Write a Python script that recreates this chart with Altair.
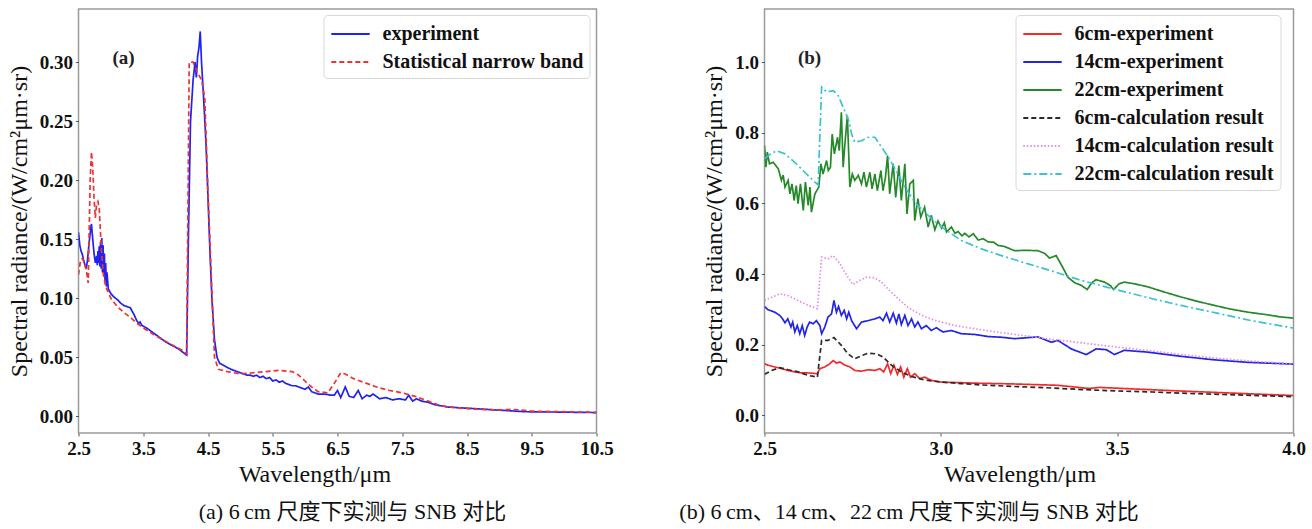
import altair as alt
import pandas as pd

# ---------------- panel (a): 6 cm, experiment vs. statistical narrow band ----------------
a_exp_wl = [2.50, 2.52, 2.54, 2.56, 2.58, 2.60, 2.62, 2.64, 2.66, 2.68, 2.70, 2.72, 2.74, 2.76,
            2.78, 2.79, 2.80, 2.81, 2.82, 2.83, 2.84, 2.85, 2.86, 2.87, 2.88, 2.89, 2.90, 2.91,
            2.92, 2.93, 2.94, 2.96, 2.98, 3.00, 3.05, 3.10, 3.15, 3.20, 3.25, 3.30, 3.33, 3.36,
            3.40, 3.43, 3.45, 3.48, 3.55, 3.65, 3.75, 3.85, 3.95, 4.05, 4.12, 4.17, 4.20, 4.23,
            4.27, 4.30, 4.32, 4.34, 4.36, 4.38, 4.40, 4.43, 4.47, 4.50, 4.53, 4.56, 4.60, 4.64,
            4.68, 4.75, 4.85, 4.95, 5.05, 5.10, 5.15, 5.20, 5.25, 5.30, 5.35, 5.40, 5.45, 5.50,
            5.55, 5.60, 5.65, 5.70, 5.75, 5.80, 5.85, 5.90, 5.95, 6.00, 6.05, 6.10, 6.20, 6.30,
            6.40, 6.45, 6.50, 6.55, 6.62, 6.68, 6.75, 6.82, 6.88, 6.95, 7.00, 7.05, 7.15, 7.25,
            7.35, 7.45, 7.55, 7.60, 7.66, 7.72, 7.80, 7.90, 8.00, 8.20, 8.50, 8.80, 9.10, 9.40,
            9.80, 10.20, 10.50]
a_exp = [0.156, 0.145, 0.140, 0.137, 0.132, 0.128, 0.125, 0.133, 0.145, 0.155, 0.163, 0.150,
         0.138, 0.130, 0.136, 0.128, 0.140, 0.130, 0.144, 0.127, 0.148, 0.125, 0.151, 0.122,
         0.145, 0.118, 0.138, 0.114, 0.130, 0.110, 0.122, 0.108, 0.106, 0.104, 0.101, 0.099,
         0.096, 0.094, 0.093, 0.092, 0.089, 0.086, 0.081, 0.079, 0.080, 0.077, 0.075, 0.071,
         0.067, 0.063, 0.060, 0.057, 0.054, 0.052, 0.160, 0.250, 0.285, 0.300, 0.287, 0.305,
         0.312, 0.326, 0.300, 0.272, 0.230, 0.185, 0.140, 0.100, 0.065, 0.050, 0.045, 0.043,
         0.040, 0.038, 0.036, 0.035, 0.035, 0.034, 0.035, 0.033, 0.034, 0.032, 0.033, 0.030,
         0.031, 0.029, 0.030, 0.028, 0.027, 0.026, 0.026, 0.025, 0.024, 0.023, 0.025, 0.021,
         0.019, 0.019, 0.018, 0.018, 0.022, 0.016, 0.025, 0.017, 0.016, 0.022, 0.015, 0.018,
         0.017, 0.019, 0.015, 0.016, 0.014, 0.015, 0.014, 0.018, 0.013, 0.015, 0.013, 0.012,
         0.010, 0.008, 0.007, 0.006, 0.005, 0.004, 0.0038, 0.0035, 0.0033]

a_snb_wl = [2.50, 2.53, 2.56, 2.59, 2.62, 2.65, 2.68, 2.70, 2.72, 2.74, 2.76, 2.78, 2.80, 2.82,
            2.85, 2.88, 2.92, 3.00, 3.10, 3.20, 3.30, 3.40, 3.50, 3.70, 3.90, 4.10, 4.17, 4.21,
            4.27, 4.33, 4.40, 4.45, 4.50, 4.55, 4.60, 4.66, 4.80, 5.00, 5.20, 5.40, 5.60, 5.80,
            5.90, 6.00, 6.10, 6.20, 6.35, 6.45, 6.55, 6.62, 6.75, 6.90, 7.10, 7.30, 7.50, 7.70,
            7.90, 8.10, 8.40, 8.70, 9.00, 9.20, 9.50, 9.80, 10.20, 10.50]
a_snb = [0.120, 0.132, 0.134, 0.130, 0.124, 0.113, 0.200, 0.224, 0.210, 0.185, 0.168, 0.180,
         0.182, 0.176, 0.145, 0.122, 0.110, 0.100, 0.093, 0.088, 0.084, 0.079, 0.075, 0.068,
         0.062, 0.056, 0.053, 0.300, 0.300, 0.292, 0.285, 0.270, 0.190, 0.120, 0.050, 0.040,
         0.038, 0.036, 0.037, 0.038, 0.039, 0.038, 0.035, 0.030, 0.025, 0.021, 0.020, 0.028,
         0.037, 0.036, 0.032, 0.029, 0.025, 0.022, 0.020, 0.017, 0.013, 0.009, 0.007, 0.006,
         0.0055, 0.006, 0.0045, 0.0042, 0.0038, 0.0035]

a_series = ["experiment", "Statistical narrow band"]
a_colors = ["#1f22f0", "#ee3333"]
a_dashes = [[1, 0], [5, 3]]
a_xticks = [2.5, 3.5, 4.5, 5.5, 6.5, 7.5, 8.5, 9.5, 10.5]
a_yticks = [0.00, 0.05, 0.10, 0.15, 0.20, 0.25, 0.30]

# ---------------- panel (b): 6 / 14 / 22 cm, experiment vs. calculation ----------------
b_exp6_wl = [2.500, 2.510, 2.529, 2.548, 2.567, 2.586, 2.605, 2.624, 2.650, 2.657, 2.671, 2.685,
             2.695, 2.704, 2.714, 2.728, 2.742, 2.756, 2.775, 2.794, 2.813, 2.827, 2.838, 2.849,
             2.858, 2.867, 2.877, 2.886, 2.895, 2.905, 2.914, 2.926, 2.940, 2.954, 2.973, 3.002,
             3.040, 3.100, 3.200, 3.332, 3.420, 3.450, 3.540, 3.700, 3.850, 4.000]
b_exp6 = [0.146, 0.142, 0.137, 0.132, 0.127, 0.123, 0.120, 0.120, 0.118, 0.132, 0.137, 0.146,
          0.155, 0.148, 0.151, 0.142, 0.137, 0.127, 0.125, 0.129, 0.127, 0.132, 0.123, 0.146,
          0.118, 0.142, 0.116, 0.137, 0.108, 0.132, 0.108, 0.118, 0.104, 0.108, 0.099, 0.094,
          0.093, 0.091, 0.089, 0.085, 0.076, 0.079, 0.075, 0.068, 0.062, 0.056]

b_exp14_wl = [2.500, 2.510, 2.529, 2.543, 2.550, 2.558, 2.566, 2.575, 2.580, 2.586, 2.593, 2.600,
              2.607, 2.614, 2.621, 2.628, 2.638, 2.647, 2.657, 2.662, 2.671, 2.680, 2.690, 2.697,
              2.704, 2.710, 2.718, 2.726, 2.733, 2.739, 2.747, 2.761, 2.775, 2.794, 2.813, 2.827,
              2.836, 2.846, 2.855, 2.865, 2.874, 2.881, 2.888, 2.898, 2.907, 2.917, 2.926, 2.935,
              2.945, 2.959, 2.973, 2.987, 3.006, 3.030, 3.058, 3.096, 3.134, 3.172, 3.209, 3.275,
              3.313, 3.332, 3.370, 3.412, 3.440, 3.469, 3.492, 3.520, 3.586, 3.681, 3.776, 3.870,
              4.000]
b_exp14 = [0.308, 0.299, 0.292, 0.283, 0.275, 0.262, 0.273, 0.250, 0.264, 0.236, 0.254, 0.231,
           0.254, 0.226, 0.250, 0.264, 0.259, 0.268, 0.254, 0.231, 0.250, 0.278, 0.287, 0.325,
           0.292, 0.308, 0.283, 0.297, 0.273, 0.292, 0.268, 0.245, 0.264, 0.268, 0.273, 0.278,
           0.268, 0.289, 0.264, 0.289, 0.261, 0.287, 0.257, 0.283, 0.254, 0.273, 0.250, 0.264,
           0.245, 0.254, 0.240, 0.248, 0.236, 0.240, 0.231, 0.229, 0.223, 0.221, 0.217, 0.222,
           0.207, 0.212, 0.188, 0.172, 0.188, 0.186, 0.172, 0.184, 0.179, 0.167, 0.157, 0.150,
           0.145]

b_exp22_wl = [2.500, 2.504, 2.508, 2.514, 2.525, 2.539, 2.548, 2.553, 2.558, 2.567, 2.572, 2.578,
              2.584, 2.590, 2.595, 2.602, 2.610, 2.616, 2.624, 2.629, 2.633, 2.643, 2.654, 2.660,
              2.666, 2.676, 2.681, 2.687, 2.692, 2.698, 2.707, 2.712, 2.718, 2.723, 2.728, 2.735,
              2.742, 2.749, 2.756, 2.766, 2.775, 2.782, 2.789, 2.799, 2.805, 2.813, 2.820, 2.830,
              2.836, 2.843, 2.849, 2.855, 2.865, 2.872, 2.881, 2.888, 2.898, 2.904, 2.912, 2.922,
              2.926, 2.935, 2.943, 2.954, 2.964, 2.973, 2.983, 2.992, 3.002, 3.010, 3.016, 3.030,
              3.040, 3.049, 3.060, 3.068, 3.080, 3.092, 3.106, 3.120, 3.134, 3.150, 3.162, 3.180,
              3.209, 3.240, 3.275, 3.295, 3.308, 3.327, 3.345, 3.360, 3.380, 3.398, 3.415, 3.428,
              3.440, 3.464, 3.480, 3.490, 3.505, 3.520, 3.550, 3.586, 3.630, 3.681, 3.730, 3.776,
              3.820, 3.870, 3.930, 3.960, 4.000]
b_exp22 = [0.764, 0.702, 0.745, 0.712, 0.716, 0.698, 0.665, 0.680, 0.646, 0.665, 0.627, 0.655,
           0.608, 0.650, 0.599, 0.655, 0.580, 0.660, 0.594, 0.646, 0.575, 0.627, 0.646, 0.712,
           0.683, 0.721, 0.693, 0.702, 0.796, 0.740, 0.787, 0.749, 0.858, 0.702, 0.768, 0.848,
           0.646, 0.683, 0.665, 0.679, 0.655, 0.688, 0.646, 0.688, 0.641, 0.683, 0.636, 0.693,
           0.636, 0.674, 0.735, 0.627, 0.712, 0.617, 0.707, 0.608, 0.712, 0.570, 0.655, 0.665,
           0.551, 0.613, 0.561, 0.589, 0.533, 0.566, 0.525, 0.550, 0.530, 0.545, 0.519, 0.533,
           0.515, 0.520, 0.508, 0.515, 0.505, 0.514, 0.496, 0.500, 0.491, 0.490, 0.481, 0.478,
           0.466, 0.467, 0.466, 0.458, 0.445, 0.452, 0.420, 0.391, 0.375, 0.368, 0.356, 0.375,
           0.384, 0.377, 0.368, 0.356, 0.372, 0.377, 0.372, 0.364, 0.350, 0.335, 0.322, 0.311,
           0.301, 0.292, 0.284, 0.279, 0.275]

b_calc6_wl = [2.500, 2.520, 2.543, 2.567, 2.595, 2.624, 2.650, 2.662, 2.680, 2.697, 2.718, 2.737,
              2.756, 2.775, 2.794, 2.818, 2.836, 2.860, 2.888, 2.917, 2.954, 3.002, 3.058, 3.115,
              3.200, 3.300, 3.400, 3.500, 3.600, 3.700, 3.800, 3.900, 4.000]
b_calc6 = [0.116, 0.127, 0.135, 0.129, 0.123, 0.113, 0.108, 0.212, 0.212, 0.220, 0.198, 0.174,
           0.160, 0.169, 0.176, 0.174, 0.165, 0.142, 0.123, 0.110, 0.100, 0.094, 0.090, 0.086,
           0.082, 0.078, 0.073, 0.069, 0.066, 0.062, 0.059, 0.056, 0.053]

b_calc14_wl = [2.500, 2.520, 2.543, 2.567, 2.595, 2.624, 2.650, 2.662, 2.680, 2.695, 2.714, 2.733,
               2.751, 2.770, 2.789, 2.813, 2.832, 2.855, 2.879, 2.907, 2.945, 2.983, 3.040, 3.096,
               3.172, 3.300, 3.400, 3.490, 3.600, 3.700, 3.800, 3.900, 4.000]
b_calc14 = [0.325, 0.334, 0.344, 0.339, 0.325, 0.311, 0.302, 0.448, 0.443, 0.452, 0.429, 0.396,
            0.370, 0.382, 0.391, 0.389, 0.377, 0.353, 0.330, 0.306, 0.283, 0.269, 0.254, 0.245,
            0.234, 0.217, 0.205, 0.194, 0.182, 0.170, 0.160, 0.152, 0.146]

b_calc22_wl = [2.500, 2.515, 2.534, 2.558, 2.586, 2.614, 2.643, 2.652, 2.662, 2.676, 2.695, 2.709,
               2.723, 2.739, 2.747, 2.756, 2.775, 2.794, 2.813, 2.832, 2.851, 2.870, 2.898, 2.926,
               2.964, 3.002, 3.058, 3.115, 3.172, 3.250, 3.310, 3.398, 3.500, 3.600, 3.681, 3.780,
               3.880, 4.000]
b_calc22 = [0.726, 0.738, 0.749, 0.740, 0.716, 0.688, 0.660, 0.652, 0.929, 0.915, 0.919, 0.905,
            0.872, 0.834, 0.796, 0.773, 0.777, 0.787, 0.787, 0.759, 0.731, 0.698, 0.646, 0.603,
            0.566, 0.533, 0.495, 0.471, 0.452, 0.428, 0.410, 0.382, 0.355, 0.330, 0.311, 0.290,
            0.268, 0.247]

b_series = ["6cm-experiment", "14cm-experiment", "22cm-experiment",
            "6cm-calculation result", "14cm-calculation result", "22cm-calculation result"]
b_colors = ["#f22a2a", "#2424e6", "#25892a", "#2a2a2a", "#e58ae5", "#3cc3cf"]
b_dashes = [[1, 0], [1, 0], [1, 0], [5, 3], [1.5, 2], [8, 3, 2, 3]]
b_xticks = [2.5, 3.0, 3.5, 4.0]
b_yticks = [0.0, 0.2, 0.4, 0.6, 0.8, 1.0]

SERIF = "Liberation Serif"
CAPTION_FONT = "Liberation Serif, Noto Sans CJK SC"
Y_TITLE = "Spectral radiance/(W/cm²μm·sr)"
X_TITLE = "Wavelength/μm"
# legend sample: a horizontal stroke, longer than the symbol box it is laid out in
LEGEND_STROKE = "M-1.6,0H1.6"


def frame(pairs):
    rows = []
    for name, xs, ys in pairs:
        rows += [{"wl": x, "val": y, "series": name} for x, y in zip(xs, ys)]
    return pd.DataFrame(rows)


df_a = frame([("experiment", a_exp_wl, a_exp),
              ("Statistical narrow band", a_snb_wl, a_snb)])
df_b = frame([("6cm-experiment", b_exp6_wl, b_exp6),
              ("14cm-experiment", b_exp14_wl, b_exp14),
              ("22cm-experiment", b_exp22_wl, b_exp22),
              ("6cm-calculation result", b_calc6_wl, b_calc6),
              ("14cm-calculation result", b_calc14_wl, b_calc14),
              ("22cm-calculation result", b_calc22_wl, b_calc22)])


def legend(x, y):
    return alt.Legend(
        title=None, orient="none", legendX=x, legendY=y,
        symbolType=LEGEND_STROKE, symbolSize=576, symbolStrokeWidth=2,
        symbolOffset=8, symbolFillColor="transparent",
        labelFont=SERIF, labelFontWeight="bold", labelFontSize=20, labelColor="#111",
        labelOffset=19, labelLimit=400, rowPadding=5, padding=6,
        strokeColor="#d8d8d8", fillColor="white", cornerRadius=4,
    )


def panel(df, series, colors, dashes, xdom, ydom, xticks, yticks, xfmt, yfmt,
          width, height, leg_x, tag, title_x, caption, caption_dx):
    x = alt.X("wl:Q", scale=alt.Scale(domain=xdom, nice=False, zero=False),
              axis=alt.Axis(values=xticks, format=xfmt, title=X_TITLE, titleX=title_x,
                            labelFlush=False))
    y = alt.Y("val:Q", scale=alt.Scale(domain=ydom, nice=False, zero=False),
              axis=alt.Axis(values=yticks, format=yfmt, title=Y_TITLE, labelFlush=False))
    lines = alt.Chart(df).mark_line(strokeWidth=1.7, clip=True).encode(
        x=x, y=y,
        color=alt.Color("series:N", scale=alt.Scale(domain=series, range=colors),
                        legend=legend(leg_x, 6)),
        strokeDash=alt.StrokeDash("series:N", scale=alt.Scale(domain=series, range=dashes),
                                  legend=legend(leg_x, 6)),
        order=alt.Order("wl:Q"),
    )
    label = alt.Chart(pd.DataFrame({"t": [tag]})).mark_text(
        font=SERIF, fontWeight="bold", fontSize=19, color="#222"
    ).encode(text="t:N", x=alt.value(45), y=alt.value(49))
    return alt.layer(lines, label).properties(
        width=width, height=height,
        title=alt.TitleParams(caption, orient="bottom", anchor="middle", dx=caption_dx,
                              font=CAPTION_FONT, fontSize=22, fontWeight="normal",
                              color="#111", offset=16),
    )


chart_a = panel(df_a, a_series, a_colors, a_dashes, [2.5, 10.5], [-0.014, 0.345],
                a_xticks, a_yticks, ".1f", ".2f", 518, 424, 245, "(a)", 236,
                "(a) 6\u2009cm 尺度下实测与 SNB 对比", 15)
chart_b = panel(df_b, b_series, b_colors, b_dashes, [2.5, 4.0], [-0.05, 1.15],
                b_xticks, b_yticks, ".1f", ".1f", 529, 424, 251, "(b)", 255,
                "(b) 6\u2009cm、14\u2009cm、22\u2009cm 尺度下实测与 SNB 对比", -120)

chart = alt.hconcat(chart_a, chart_b, spacing=64).resolve_scale(
    color="independent", strokeDash="independent"
).properties(
    padding={"left": 6.5, "top": 8, "right": 0, "bottom": 0},
    background="white",
).configure_view(
    stroke="#9a9a9a", strokeWidth=1.5
).configure_axis(
    grid=False, domain=False, tickSize=3, tickColor="#555", tickWidth=1,
    labelFont=SERIF, labelFontWeight="bold", labelFontSize=19, labelColor="#111",
    labelPadding=3, titleFont=SERIF, titleFontSize=24, titleFontWeight="normal",
    titleColor="#111",
).configure_axisX(titlePadding=4).configure_axisY(titlePadding=8)

chart.save("out.html", embed_options={"renderer": "svg", "actions": False})
